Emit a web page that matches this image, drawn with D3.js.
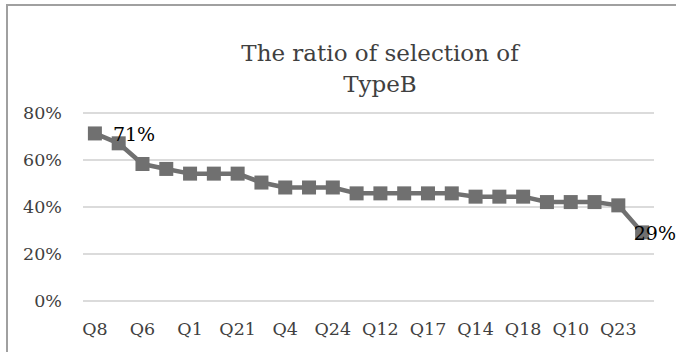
<!DOCTYPE html>
<html>
<head>
<meta charset="utf-8">
<script src="https://cdn.jsdelivr.net/npm/d3@7"></script>
<style>
  html, body { margin: 0; padding: 0; background: #fff; }
  svg { display: block; }
</style>
</head>
<body>
<svg id="chart" width="676" height="352"></svg>
<script>
// ---- data ----
const categories = ["Q8","Q3","Q6","Q9","Q1","Q2","Q21","Q5","Q4","Q7","Q24","Q11",
                    "Q12","Q13","Q17","Q15","Q14","Q16","Q18","Q19","Q10","Q20","Q23","Q22"];
const values = [71.3, 67.1, 58.3, 56.2, 54.2, 54.2, 54.2, 50.4, 48.3, 48.3, 48.3, 45.8,
                45.8, 45.8, 45.8, 45.8, 44.4, 44.4, 44.4, 42.1, 42.1, 42.1, 40.7, 29.2];
const yTicks = [0, 20, 40, 60, 80];
const labelledIdx = [0, 23];
const titleLines = ["The ratio of selection of", "TypeB"];

// ---- layout ----
const W = 676, H = 352;
const svg = d3.select("#chart");
const font = "'DejaVu Serif', serif";
const lineColor = "#707070";

// frame
svg.append("path")
  .attr("d", `M7,${H} L7,5 L${W},5`)
  .attr("fill", "none").attr("stroke", "#a0a0a0").attr("stroke-width", 2);

const x = d3.scaleBand().domain(categories).range([83, 654]);
const y = d3.scaleLinear().domain([0, 80]).range([301, 113]);

// gridlines
svg.append("g").selectAll("line").data(yTicks).join("line")
  .attr("x1", 83).attr("x2", 654)
  .attr("y1", d => y(d)).attr("y2", d => y(d))
  .attr("stroke", "#cfcfcf").attr("stroke-width", 1.5);

// y axis
const yAxis = svg.append("g").attr("transform", "translate(62,0)")
  .call(d3.axisLeft(y).tickValues(yTicks).tickSize(0).tickPadding(0).tickFormat(d => d + "%"));
yAxis.select(".domain").remove();
yAxis.selectAll("text").attr("font-family", font).attr("font-size", 17.5).attr("fill", "#404040");

// x axis
const xAxis = svg.append("g").attr("transform", "translate(0,301)")
  .call(d3.axisBottom(x).tickValues(categories.filter((c, i) => i % 2 === 0)).tickSize(0).tickPadding(0));
xAxis.select(".domain").remove();
xAxis.selectAll("text").attr("font-family", font).attr("font-size", 17.5).attr("fill", "#404040")
  .attr("dy", null).attr("y", 34);

// title
svg.append("text")
  .attr("x", 380).attr("y", 61)
  .attr("text-anchor", "middle")
  .attr("font-family", font).attr("font-size", 23).attr("fill", "#404040")
  .selectAll("tspan").data(titleLines).join("tspan")
  .attr("x", 380).attr("dy", (d, i) => i === 0 ? 0 : 31)
  .text(d => d);

// line
const cx = (d, i) => x(categories[i]) + x.bandwidth() / 2;
svg.append("path")
  .datum(values)
  .attr("fill", "none").attr("stroke", lineColor).attr("stroke-width", 4.5)
  .attr("stroke-linejoin", "round")
  .attr("d", d3.line().x(cx).y(d => y(d)));

// markers
const ms = 14;
svg.append("g").selectAll("rect").data(values).join("rect")
  .attr("x", (d, i) => cx(d, i) - ms / 2)
  .attr("y", d => y(d) - ms / 2)
  .attr("width", ms).attr("height", ms)
  .attr("fill", lineColor);

// data labels
const lbl = svg.append("g").selectAll("text").data(labelledIdx).join("text")
  .attr("font-family", font).attr("font-size", 19).attr("fill", "#000")
  .attr("dominant-baseline", "central")
  .attr("y", i => y(values[i]) + 1)
  .text(i => Math.round(values[i]) + "%");
lbl.each(function(i) {
  const w = this.getComputedTextLength();
  let px = cx(values[i], i) + 18;
  if (px + w > W) px = W - w;
  d3.select(this).attr("x", px);
});
</script>
</body>
</html>
